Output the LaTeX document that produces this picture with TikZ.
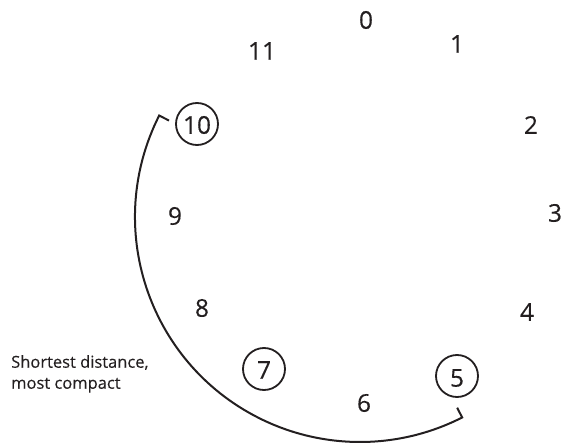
\documentclass[tikz,border=0pt]{standalone}
\usepackage{fontspec}
\setmainfont{Open Sans}
\newfontfamily\inkfont{Open Sans}[FakeBold=0.25]
\definecolor{ink}{HTML}{231F20}
\begin{document}
\begin{tikzpicture}[x=1pt,y=-1pt,
  num/.style={font=\inkfont\fontsize{24.5}{24.5}\selectfont, text=ink, inner sep=0pt},
  ring/.style={draw=ink, line width=1.8pt, circle, minimum size=42pt, inner sep=0pt},
  arcline/.style={draw=ink, line width=2pt}]
\useasboundingbox (0,0) rectangle (563,444);
\node[num] (n0) at (366,20) {0};
\node[num] (n1) at (457,44) {1};
\node[num] (n2) at (531,125) {2};
\node[num] (n3) at (555,213) {3};
\node[num] (n4) at (527,312) {4};
\node[num] (n5) at (457,378) {5};
\node[num] (n6) at (364,403) {6};
\node[num] (n7) at (264,370) {7};
\node[num] (n8) at (202,308) {8};
\node[num] (n9) at (175,216) {9};
\node[num] (n10) at (197,125) {10};
\node[num] (n11) at (262,51) {11};
\node[ring] (r5) at ([yshift=2pt]n5) {};
\node[ring] (r7) at ([yshift=1pt]n7) {};
\node[ring] (r10) at ([yshift=1pt]n10) {};
\coordinate (c) at (360,217);
\coordinate (a) at ([shift={(206.8:225)}]c);
\coordinate (ai) at ([shift={(206.8:214)}]c);
\coordinate (b) at ([shift={(63:225)}]c);
\coordinate (bi) at ([shift={(63:214)}]c);
\draw[arcline, line join=miter] (ai) -- (a) arc[start angle=206.8, end angle=63, radius=225] -- (bi);
\node[font=\inkfont\fontsize{16.5}{21}\selectfont, align=left, anchor=north west, inner sep=0pt, text=ink] (lbl) at (11,355) {Shortest distance,\\most compact};
\end{tikzpicture}
\end{document}
